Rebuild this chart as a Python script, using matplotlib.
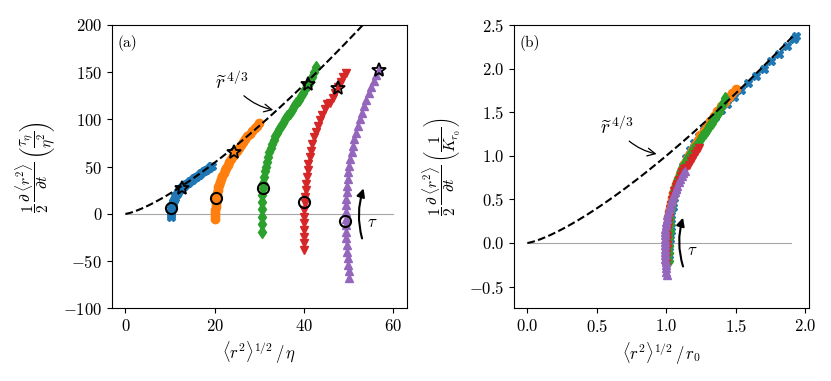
import numpy as np
import matplotlib
matplotlib.use("Agg")
import matplotlib.pyplot as plt

plt.rcParams['font.family'] = 'serif'
plt.rcParams['font.serif'] = ['cmr10']
plt.rcParams['mathtext.fontset'] = 'cm'
plt.rcParams['axes.formatter.use_mathtext'] = True
plt.rcParams['font.size'] = 12

# ---- data (panel a units) ----
blue_x = [10.2, 10.2, 10.25, 10.3, 10.3, 10.35, 10.45, 10.55, 10.7, 10.85, 11.0, 11.2, 11.45, 11.7, 12.0,
          12.35, 12.7, 13.1, 13.5, 13.95, 14.4, 14.9, 15.4, 15.9, 16.45, 17.0, 17.55, 18.1, 18.65, 19.2, 19.35]
blue_y = [-3, -1, 1, 3, 5, 7, 9, 11, 13, 15, 17, 19, 21, 23, 24.8,
          26.5, 28, 29.6, 31.2, 32.8, 34.4, 36.1, 37.8, 39.5, 41.3, 43.1, 44.9, 46.7, 48.6, 50.5, 51.2]

orange_x = [20.1, 20.1, 20.1, 20.15, 20.2, 20.2, 20.25, 20.3, 20.4, 20.5, 20.65, 20.8, 21.0, 21.2, 21.45,
            21.7, 22.0, 22.3, 22.6, 22.95, 23.3, 23.7, 24.1, 24.5, 24.9, 25.35, 25.8, 26.3, 26.8, 27.3,
            27.85, 28.4, 28.95, 29.5, 30.0]
orange_y = [-5, -2, 1, 4, 7, 10, 13, 16, 19, 22, 25, 28, 31, 34, 37,
            40, 43, 46, 49, 52, 55, 58, 61, 64, 67, 70, 73, 76, 79, 82,
            85, 88, 91, 93.5, 95.8]

green_x = [30.6, 30.6, 30.6, 30.65, 30.7, 30.7, 30.75, 30.85, 31.0, 31.2, 31.4, 31.65, 31.9, 32.2, 32.5,
           32.85, 33.2, 33.6, 34.0, 34.4, 34.85, 35.3, 35.8, 36.3, 36.8, 37.3, 37.8, 38.3, 38.8, 39.3,
           39.8, 40.3, 40.8, 41.3, 41.8, 42.3, 42.7]
green_y = [-19, -11, -3, 5, 13, 20, 27, 33, 39, 45, 50, 55, 60, 65, 69.5,
           74, 78, 82, 86, 89.5, 93, 96.5, 100, 103.5, 107, 110.5, 114, 117.5, 121, 124.5,
           128, 132, 136, 140, 145, 150, 155]

red_x = [40.0, 40.0, 40.0, 40.0, 40.05, 40.05, 40.1, 40.15, 40.25, 40.35, 40.5, 40.65, 40.8, 41.0, 41.25,
         41.55, 41.9, 42.3, 42.7, 43.15, 43.6, 44.1, 44.65, 45.2, 45.8, 46.4, 47.0, 47.6, 48.2, 48.8, 49.4]
red_y = [-38, -31, -24, -17, -10, -3, 4, 11, 18, 25, 32, 39, 46, 53, 60,
         67, 74, 81, 87, 93, 99, 105, 111, 116.5, 117.5, 123, 128.5, 134, 139.5, 144.5, 149]

purple_x = [50.1, 50.0, 49.9, 49.8, 49.7, 49.6, 49.5, 49.45, 49.4, 49.4, 49.4, 49.45, 49.5, 49.55, 49.65,
            49.8, 49.95, 50.15, 50.4, 50.65, 50.95, 51.3, 51.65, 52.05, 52.5, 52.95, 53.45, 53.95, 54.5,
            55.05, 55.6, 56.15, 56.7]
purple_y = [-68, -61, -54, -47, -40, -33, -26, -19, -12, -5, 2, 9, 16, 23, 30,
            37, 44, 51, 58, 65, 72, 79, 86, 93, 100, 107, 114, 121, 128,
            134.5, 141, 147, 152.5]

series_x = [blue_x, orange_x, green_x, red_x, purple_x]
series_y = [blue_y, orange_y, green_y, red_y, purple_y]
colors = ['tab:blue', 'tab:orange', 'tab:green', 'tab:red', 'tab:purple']
markers = ['X', 'o', 'd', 'v', '^']

circle_x = [10.3, 20.3, 30.75, 40.1, 49.2]
circle_y = [6, 16.5, 27.5, 12.5, -8]
star_x = [12.7, 24.3, 40.8, 47.6, 56.7]
star_y = [27.5, 65, 137, 133.5, 152.5]

r0 = [10, 20, 30, 40, 50]

fig = plt.figure(figsize=(8.31, 3.81), dpi=100)
ax1 = fig.add_axes([0.1348, 0.1908, 0.3546, 0.7436])
ax2 = fig.add_axes([0.6185, 0.1908, 0.3550, 0.7436])

# ---- panel (a) ----
ax1.plot([0, 60], [0, 0], color='gray', lw=0.8, alpha=0.7, zorder=1)
xa = np.linspace(0, 60, 300)
ax1.plot(xa, xa ** (4 / 3), 'k--', lw=1.5, zorder=4)
for xs, ys, c, m in zip(series_x, series_y, colors, markers):
    ax1.plot(xs, ys, color=c, marker=m, ms=6, lw=1.5, zorder=2)
for i in range(5):
    ax1.plot(circle_x[i], circle_y[i], 'o', ms=8, mfc='none', mec='k', mew=1.5, zorder=5)
    ax1.plot(star_x[i], star_y[i], '*', ms=10, mfc='none', mec='k', mew=1.3, zorder=5)
ax1.set_xlim(-3, 63)
ax1.set_ylim(-100, 200)
ax1.set_xticks([0, 20, 40, 60])
ax1.set_yticks([-100, -50, 0, 50, 100, 150, 200])
ax1.set_xlabel(r'$\langle r^2\rangle^{1/2}\,/\,\eta$')
ax1.set_ylabel(r'$\dfrac{1}{2}\,\dfrac{\partial\,\langle r^2\rangle}{\partial t}\,\left(\dfrac{\tau_\eta}{\eta^2}\right)$',
               fontsize=11)
ax1.text(0.02, 0.965, '(a)', transform=ax1.transAxes, ha='left', va='top', fontsize=11)
ax1.annotate(r'$\widetilde{r}^{\,4/3}$', xy=(33.1, 110), xytext=(20, 128), fontsize=14,
             arrowprops=dict(arrowstyle='->', color='k', lw=0.9, connectionstyle='arc3,rad=0.2',
                             shrinkA=0, shrinkB=0),
             ha='left', va='bottom')
ax1.annotate('', xy=(53.35, 27), xytext=(53.0, -26),
             arrowprops=dict(arrowstyle='-|>', color='k', lw=1.5, connectionstyle='arc3,rad=-0.15',
                             shrinkA=0, shrinkB=0, mutation_scale=12))
ax1.text(54.1, -8.5, r'$\tau$', fontsize=12, ha='left', va='center')

# ---- panel (b) ----
ax2.plot([0, 1.9], [0, 0], color='gray', lw=0.8, alpha=0.7, zorder=1)
xb = np.linspace(0, 1.92, 300)
ax2.plot(xb, xb ** (4 / 3), 'k--', lw=1.5, zorder=4)
for xs, ys, c, m, r in zip(series_x, series_y, colors, markers, r0):
    k = r ** (4 / 3)
    ax2.plot(np.array(xs) / r, np.array(ys) / k, color=c, marker=m, ms=6, lw=1.5, zorder=2)
ax2.set_xlim(-0.0965, 2.0265)
ax2.set_ylim(-0.75, 2.5)
ax2.set_xticks([0.0, 0.5, 1.0, 1.5, 2.0])
ax2.set_yticks([-0.5, 0.0, 0.5, 1.0, 1.5, 2.0, 2.5])
ax2.set_xlabel(r'$\langle r^2\rangle^{1/2}\,/\,r_0$')
ax2.set_ylabel(r'$\dfrac{1}{2}\,\dfrac{\partial\,\langle r^2\rangle}{\partial t}\,\left(\dfrac{1}{K_{r_0}}\right)$',
               fontsize=11)
ax2.text(0.02, 0.965, '(b)', transform=ax2.transAxes, ha='left', va='top', fontsize=11)
ax2.annotate(r'$\widetilde{r}^{\,4/3}$', xy=(0.93, 1.02), xytext=(0.52, 1.2), fontsize=14,
             arrowprops=dict(arrowstyle='->', color='k', lw=0.9, connectionstyle='arc3,rad=0.2',
                             shrinkA=0, shrinkB=0),
             ha='left', va='bottom')
ax2.annotate('', xy=(1.12, 0.29), xytext=(1.12, -0.27),
             arrowprops=dict(arrowstyle='-|>', color='k', lw=1.5, connectionstyle='arc3,rad=-0.15',
                             shrinkA=0, shrinkB=0, mutation_scale=12))
ax2.text(1.15, -0.09, r'$\tau$', fontsize=12, ha='left', va='center')

for ax in (ax1, ax2):
    ax.tick_params(labelsize=12)

fig.savefig('out.png', dpi=100)
